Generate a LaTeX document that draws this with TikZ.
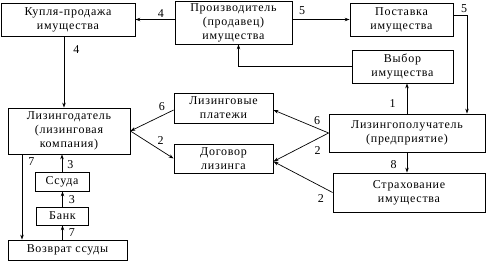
\documentclass[tikz,border=0pt]{standalone}
\usepackage{fontspec}
\setmainfont{Liberation Serif}[LetterSpace=6]
\usetikzlibrary{arrows.meta}

\begin{document}
\begin{tikzpicture}[x=1pt,y=-1pt,
  box/.style={draw, line width=0.8pt, align=center, inner sep=0pt, font=\fontsize{12}{14}\selectfont},
  arr/.style={-{Stealth[length=5pt,width=3.5pt]}, line width=0.7pt},
  lbl/.style={font=\fontsize{12}{14}\selectfont, inner sep=1pt}
]
\useasboundingbox (0,0) rectangle (487,261);

% boxes
\node[box, minimum width=134pt, minimum height=33pt] (kupl) at (68,19.5) {Купля-продажа\\имущества};
\node[box, minimum width=117pt, minimum height=43pt] (proizv) at (233.5,22.5) {Производитель\\(продавец)\\имущества};
\node[box, minimum width=103pt, minimum height=33pt] (post) at (401.5,19.5) {Поставка\\имущества};
\node[box, minimum width=101pt, minimum height=33pt] (vybor) at (402.5,66.5) {Выбор\\имущества};
\node[box, minimum width=122pt, minimum height=46pt] (lizd) at (69,131) {Лизингодатель\\(лизинговая\\компания)};
\node[box, minimum width=99pt, minimum height=30pt] (plat) at (223.5,108) {Лизинговые\\платежи};
\node[box, minimum width=99pt, minimum height=29pt] (dogovor) at (223.5,158.5) {Договор\\лизинга};
\node[box, minimum width=156pt, minimum height=38pt] (poluch) at (407,133) {Лизингополучатель\\(предприятие)};
\node[box, minimum width=152pt, minimum height=39pt] (strakh) at (409,192.5) {Страхование\\имущества};
\node[box, minimum width=54pt, minimum height=19pt] (ssuda) at (62,181.5) {Ссуда};
\node[box, minimum width=52pt, minimum height=18pt] (bank) at (62.5,216) {Банк};
\node[box, minimum width=119pt, minimum height=20pt] (vozvrat) at (67.5,250) {Возврат ссуды};

% top row
\draw[arr] (proizv.west |- kupl.east) -- (kupl.east) node[lbl, pos=.35, above=0.5pt] {4};
\draw[arr] (proizv.east |- post.west) -- (post.west) node[lbl, pos=.17, above=4pt] {5};
\draw[arr] ([yshift=4pt]post.east) -| ([xshift=60pt]poluch.north) node[lbl, pos=.5, above=1.5pt, xshift=-3pt] {5};
\draw[arr] (vybor.west) -| ([xshift=5pt]proizv.south);
\draw[arr] ([xshift=-4pt]kupl.south) -- ([xshift=-4pt]kupl.south |- lizd.north) node[lbl, pos=.18, right=8pt] {4};

% right side
\draw[arr] (poluch.north) -- (poluch.north |- vybor.south) node[lbl, pos=.32, left=10pt] {1};
\draw[arr] (poluch.south) -- (poluch.south |- strakh.north) node[lbl, pos=.62, left=9pt] {8};
\draw[arr] (poluch.west) -- ([yshift=-2pt]plat.east) node[lbl, pos=.21, above=2pt] {6};
\draw[arr] (poluch.west) -- ([yshift=-3pt]dogovor.east) node[lbl, pos=.2, below=7pt] {2};
\draw[arr] (strakh.west) -- ([yshift=-3pt]dogovor.east) node[lbl, pos=.2, below=7pt] {2};

% left side
\draw[arr] ([yshift=-2pt]plat.west) -- (lizd.east) node[lbl, pos=.27, above=4pt] {6};
\draw[arr] (lizd.east) -- (dogovor.west) node[lbl, pos=.7, above=4pt] {2};
\draw[arr] ([xshift=-47pt]lizd.south) -- ([xshift=-47pt]lizd.south |- vozvrat.north) node[lbl, pos=.09, right=5pt] {7};
\draw[arr] (ssuda.north) -- (ssuda.north |- lizd.south) node[lbl, pos=.4, right=4pt] {3};
\draw[arr] (bank.north) -- (bank.north |- ssuda.south) node[lbl, pos=.45, right=5pt] {3};
\draw[arr] (vozvrat.north -| bank.south) -- (bank.south) node[lbl, pos=.5, right=5pt] {7};
\end{tikzpicture}
\end{document}
